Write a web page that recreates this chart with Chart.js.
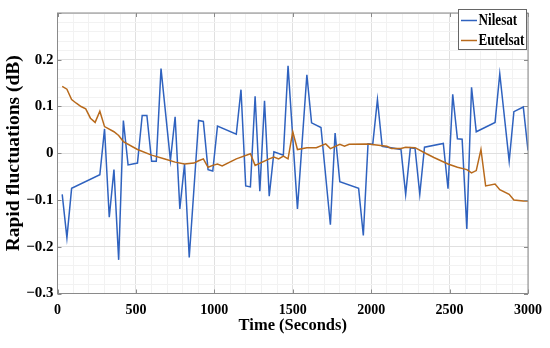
<!DOCTYPE html>
<html><head><meta charset="utf-8">
<script src="https://cdn.jsdelivr.net/npm/chart.js@4"></script>
<style>html,body{margin:0;padding:0;background:#fff}#c{display:block}</style>
</head><body>
<canvas id="c" width="550" height="348"></canvas>
<script>
const nilesatTime = [30,60,90,270,300,330,360,390,420,450,510,540,570,600,630,660,720,750,780,810,840,900,930,960,990,1020,1140,1170,1200,1230,1260,1290,1320,1350,1380,1440,1470,1530,1590,1620,1680,1740,1770,1800,1920,1950,1980,2010,2040,2070,2190,2220,2250,2280,2310,2340,2460,2490,2520,2550,2580,2610,2640,2670,2790,2820,2880,2910,2970,3000];
const nilesatValues = [-0.088,-0.181,-0.075,-0.046,0.052,-0.137,-0.035,-0.228,0.07,-0.025,-0.021,0.081,0.081,-0.017,-0.017,0.181,-0.015,0.078,-0.119,-0.023,-0.223,0.07,0.068,-0.035,-0.038,0.058,0.041,0.136,-0.07,-0.072,0.122,-0.081,0.112,-0.092,0.003,-0.004,0.187,-0.119,0.168,0.065,0.055,-0.153,0.043,-0.061,-0.075,-0.176,0.02,0.019,0.115,0.015,0.008,-0.088,0.012,0.010,-0.088,0.013,0.021,-0.076,0.126,0.031,0.03,-0.162,0.141,0.046,0.066,0.17,-0.017,0.089,0.099,0.006];
const eutelsatTime = [30,60,90,120,150,180,210,240,270,300,360,390,420,510,600,690,750,810,870,900,930,960,990,1020,1050,1140,1230,1260,1350,1380,1410,1440,1470,1500,1530,1590,1650,1710,1740,1800,1830,1860,1980,2100,2130,2190,2220,2280,2340,2400,2490,2550,2610,2640,2670,2700,2730,2790,2820,2880,2910,2970,3000];
const eutelsatValues = [0.143,0.137,0.115,0.107,0.1,0.095,0.075,0.066,0.09,0.057,0.046,0.038,0.025,0.008,-0.004,-0.013,-0.019,-0.023,-0.021,-0.016,-0.012,-0.030,-0.026,-0.023,-0.027,-0.012,-0.001,-0.026,-0.012,-0.008,-0.012,-0.006,-0.012,0.046,0.008,0.012,0.012,0.02,0.010,0.019,0.015,0.019,0.02,0.015,0.010,0.01,0.013,0.012,0.001,-0.009,-0.023,-0.030,-0.035,-0.042,-0.037,0.008,-0.07,-0.066,-0.078,-0.088,-0.1,-0.102,-0.102];
const xTickLabels = [0,500,1000,1500,2000,2500,3000];
const yTickLabels = [-0.3,-0.2,-0.1,0,0.1,0.2];
const seriesNames = ['Nilesat','Eutelsat'];
const seriesColors = ['#2f62bf','#b86a1c'];

const SERIF = '"Liberation Serif","Times New Roman",serif';

function toPoints(t, v){ return t.map((x,i)=>({x:x, y:v[i]})); }

const framePlugin = {
  id: 'frame',
  afterDraw(chart){
    const {ctx, chartArea:a, scales:{x, y}} = chart;
    ctx.save();
    ctx.strokeStyle = '#8a8a8a';
    ctx.lineWidth = 1;
    ctx.strokeRect(a.left, a.top, a.right - a.left, a.bottom - a.top);
    ctx.beginPath();
    xTickLabels.forEach(v => {
      const px = Math.round(x.getPixelForValue(v)) + 0.5;
      ctx.moveTo(px, a.bottom); ctx.lineTo(px, a.bottom - 4);
      ctx.moveTo(px, a.top); ctx.lineTo(px, a.top + 4);
    });
    yTickLabels.concat([0.3]).forEach(v => {
      const py = Math.round(y.getPixelForValue(v)) + 0.5;
      ctx.moveTo(a.left, py); ctx.lineTo(a.left + 4, py);
      ctx.moveTo(a.right, py); ctx.lineTo(a.right - 4, py);
    });
    ctx.stroke();
    // legend
    const bx = 458.5, by = 9.5, bw = 68, bh = 40;
    ctx.fillStyle = '#fff';
    ctx.fillRect(bx, by, bw, bh);
    ctx.strokeStyle = '#666';
    ctx.strokeRect(bx, by, bw, bh);
    ctx.font = 'bold 16px ' + SERIF;
    ctx.textBaseline = 'middle';
    ctx.textAlign = 'left';
    const sx = 46 / ctx.measureText(seriesNames[1]).width;
    const rows = [20.5, 40.5];
    seriesNames.forEach((n, i) => {
      ctx.strokeStyle = seriesColors[i];
      ctx.lineWidth = 1.5;
      ctx.beginPath();
      ctx.moveTo(461, rows[i]); ctx.lineTo(477, rows[i]);
      ctx.stroke();
      ctx.save();
      ctx.translate(478.5, rows[i] + 0.5);
      ctx.scale(sx, 1);
      ctx.fillStyle = '#000';
      ctx.fillText(n, 0, 0);
      ctx.restore();
    });
    ctx.restore();
  }
};

new Chart(document.getElementById('c'), {
  type: 'line',
  data: {
    datasets: [
      {label: seriesNames[0], data: toPoints(nilesatTime, nilesatValues), borderColor: seriesColors[0], borderWidth: 1.5, pointRadius: 0, tension: 0, fill: false, order: 2},
      {label: seriesNames[1], data: toPoints(eutelsatTime, eutelsatValues), borderColor: seriesColors[1], borderWidth: 1.5, pointRadius: 0, tension: 0, fill: false, order: 1}
    ]
  },
  options: {
    responsive: false,
    devicePixelRatio: 1,
    animation: false,
    layout: {padding: {left: 0, right: 18.5, top: 4.5, bottom: 0}},
    plugins: {legend: {display: false}, tooltip: {enabled: false}},
    scales: {
      x: {
        type: 'linear', min: 0, max: 3000,
        afterFit(s){ s.height = 54.5; },
        ticks: {
          stepSize: 100, autoSkip: false, maxRotation: 0, padding: 8,
          color: '#000', font: {family: SERIF, size: 14, weight: 'bold'},
          callback: v => (xTickLabels.includes(v) ? String(v) : '')
        },
        grid: {
          drawTicks: false,
          color: c => (c.tick && c.tick.value % 500 === 0 ? '#e0e0e0' : '#f2f2f2'),
          lineWidth: 1
        },
        border: {display: false},
        title: {display: true, text: 'Time (Seconds)', color: '#000', font: {family: SERIF, size: 16.5, weight: 'bold'}, padding: {top: 0, bottom: 12}}
      },
      y: {
        min: -0.3, max: 0.3,
        afterFit(s){ s.width = 57.5; },
        ticks: {
          stepSize: 0.02, autoSkip: false, padding: 4,
          color: '#000', font: {family: SERIF, size: 15, weight: 'bold'},
          callback: v => {
            const r = Math.round(v * 100);
            const m = yTickLabels.find(t => Math.round(t * 100) === r);
            if (m === undefined) return '';
            if (r === 0) return '0';
            return (r < 0 ? '\u2212' : '') + (Math.abs(r) / 100).toFixed(1);
          }
        },
        grid: {
          drawTicks: false,
          color: c => (c.tick && Math.round(c.tick.value * 100) % 10 === 0 ? '#e0e0e0' : '#f2f2f2'),
          lineWidth: 1
        },
        border: {display: false},
        title: {display: true, text: 'Rapid fluctuations (dB)', color: '#000', font: {family: SERIF, size: 19.5, weight: 'bold'}, padding: {top: 2, bottom: 0}}
      }
    }
  },
  plugins: [framePlugin]
});
</script>
</body></html>
